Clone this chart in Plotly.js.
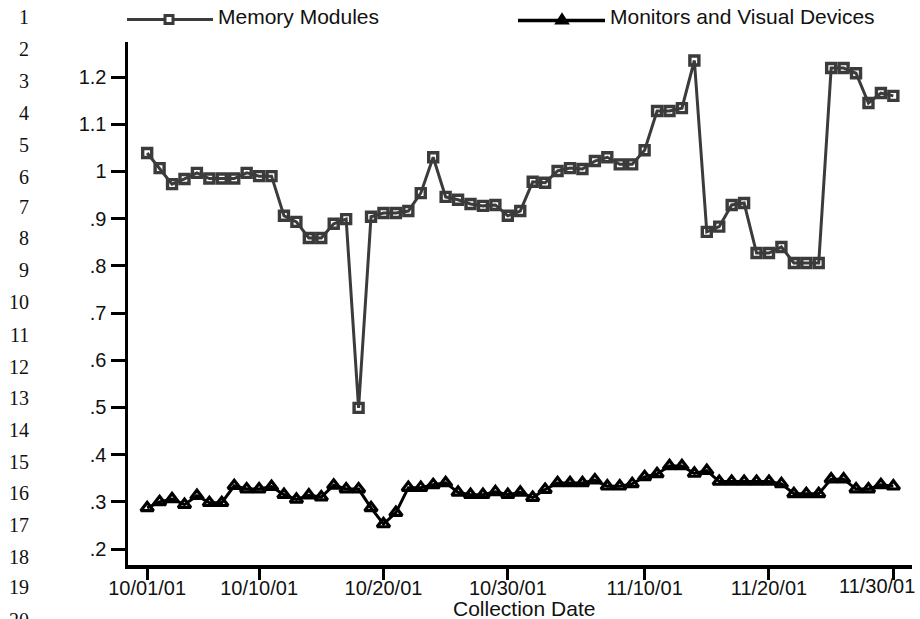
<!DOCTYPE html>
<html>
<head>
<meta charset="utf-8">
<script src="https://cdn.plot.ly/plotly-3.0.1.min.js"></script>
<style>
  html, body { margin: 0; padding: 0; background: #fff; }
  #chart { width: 920px; height: 619px; }
</style>
</head>
<body>
<div id="chart"></div>
<script>
// ---- data ----
var dates = [
  "2001-10-01","2001-10-02","2001-10-03","2001-10-04","2001-10-05","2001-10-06","2001-10-07","2001-10-08","2001-10-09","2001-10-10",
  "2001-10-11","2001-10-12","2001-10-13","2001-10-14","2001-10-15","2001-10-16","2001-10-17","2001-10-18","2001-10-19","2001-10-20",
  "2001-10-21","2001-10-22","2001-10-23","2001-10-24","2001-10-25","2001-10-26","2001-10-27","2001-10-28","2001-10-29","2001-10-30",
  "2001-10-31","2001-11-01","2001-11-02","2001-11-03","2001-11-04","2001-11-05","2001-11-06","2001-11-07","2001-11-08","2001-11-09",
  "2001-11-10","2001-11-11","2001-11-12","2001-11-13","2001-11-14","2001-11-15","2001-11-16","2001-11-17","2001-11-18","2001-11-19",
  "2001-11-20","2001-11-21","2001-11-22","2001-11-23","2001-11-24","2001-11-25","2001-11-26","2001-11-27","2001-11-28","2001-11-29",
  "2001-11-30"
];
var memoryModules = [
  1.039, 1.007, 0.973, 0.984, 0.997, 0.985, 0.985, 0.985, 0.997, 0.990,
  0.990, 0.906, 0.893, 0.859, 0.859, 0.889, 0.899, 0.499, 0.904, 0.912,
  0.912, 0.916, 0.954, 1.030, 0.946, 0.940, 0.931, 0.927, 0.929, 0.906,
  0.916, 0.978, 0.976, 1.001, 1.007, 1.005, 1.022, 1.030, 1.015, 1.015,
  1.045, 1.128, 1.128, 1.134, 1.235, 0.872, 0.883, 0.929, 0.933, 0.827,
  0.827, 0.840, 0.806, 0.806, 0.806, 1.219, 1.219, 1.208, 1.145, 1.166,
  1.160
];
var monitorsVisual = [
  0.287, 0.300, 0.306, 0.294, 0.313, 0.298, 0.298, 0.334, 0.327, 0.327,
  0.332, 0.315, 0.305, 0.314, 0.310, 0.335, 0.327, 0.327, 0.287, 0.253,
  0.277, 0.330, 0.330, 0.336, 0.340, 0.320, 0.315, 0.315, 0.321, 0.315,
  0.320, 0.309, 0.326, 0.340, 0.340, 0.340, 0.346, 0.333, 0.333, 0.338,
  0.353, 0.359, 0.376, 0.376, 0.360, 0.366, 0.343, 0.343, 0.343, 0.343,
  0.343, 0.338, 0.317, 0.317, 0.317, 0.348, 0.348, 0.327, 0.327, 0.336,
  0.333
];
var xTickVals = ["2001-10-01","2001-10-10","2001-10-20","2001-10-30","2001-11-10","2001-11-20","2001-11-30"];
var xTickText = ["10/01/01","10/10/01","10/20/01","10/30/01","11/10/01","11/20/01","11/30/01"];
var yTickVals = [0.2,0.3,0.4,0.5,0.6,0.7,0.8,0.9,1.0,1.1,1.2];
var yTickText = [".2",".3",".4",".5",".6",".7",".8",".9","1","1.1","1.2"];
var seriesNames = ["Memory Modules","Monitors and Visual Devices"];
var xAxisTitle = "Collection Date";
var lineNumbers = ["1","2","3","4","5","6","7","8","9","10","11","12","13","14","15","16","17","18","19","20"];

// ---- layout helpers (pixel -> paper) ----
var M = {l: 128, r: 8, t: 42, b: 54};
var W = 920, H = 619;
var PW = W - M.l - M.r, PH = H - M.t - M.b;
function px(x) { return (x - M.l) / PW; }
function py(y) { return (H - M.b - y) / PH; }

var memColor = "#3b3b3b";
var monColor = "#000000";
var font = "Liberation Sans, Arial, sans-serif";
var txtColor = "#111";

var traces = [
  {
    x: dates, y: memoryModules, name: seriesNames[0], type: "scatter", mode: "lines+markers",
    line: {color: memColor, width: 3},
    marker: {symbol: "square-open", size: 9, color: memColor, line: {color: memColor, width: 3.4}},
    cliponaxis: false
  },
  {
    x: dates, y: monitorsVisual, name: seriesNames[1], type: "scatter", mode: "lines+markers",
    line: {color: monColor, width: 3},
    marker: {symbol: "triangle-up-open", size: 11, color: monColor, line: {color: monColor, width: 3.2}},
    cliponaxis: false
  }
];

var shapes = [];
var annotations = [];

// custom legend
shapes.push({type: "line", xref: "paper", yref: "paper", x0: px(127), x1: px(213), y0: py(19.5), y1: py(19.5),
  line: {color: memColor, width: 3}});
shapes.push({type: "rect", xref: "paper", yref: "paper", x0: px(165), x1: px(173), y0: py(23.5), y1: py(15.5),
  fillcolor: "#ffffff", line: {color: memColor, width: 3}});
annotations.push({xref: "paper", yref: "paper", x: px(216), y: py(17), xanchor: "left", yanchor: "middle",
  text: seriesNames[0], showarrow: false, font: {family: font, size: 21, color: txtColor}});
shapes.push({type: "line", xref: "paper", yref: "paper", x0: px(518), x1: px(605), y0: py(20.5), y1: py(20.5),
  line: {color: monColor, width: 3.5}});
shapes.push({type: "path", xref: "paper", yref: "paper",
  path: "M" + px(556) + "," + py(23.5) + " L" + px(568) + "," + py(23.5) + " L" + px(562) + "," + py(14) + " Z",
  fillcolor: "#000", line: {color: monColor, width: 2}});
annotations.push({xref: "paper", yref: "paper", x: px(608), y: py(16), xanchor: "left", yanchor: "middle",
  text: seriesNames[1], showarrow: false, font: {family: font, size: 21, color: txtColor}});

// last x tick label is pulled left so it fits inside the page (as in the reference)
var xTickTextShown = xTickText.slice(0, xTickText.length - 1).concat([""]);
annotations.push({xref: "paper", yref: "paper", x: px(917), y: py(586), xanchor: "right", yanchor: "middle",
  text: xTickText[xTickText.length - 1], showarrow: false, font: {family: font, size: 20, color: txtColor}});

// x axis title
annotations.push({xref: "paper", yref: "paper", x: px(524), y: py(608), xanchor: "center", yanchor: "middle",
  text: xAxisTitle, showarrow: false, font: {family: font, size: 21, color: txtColor}});

// line numbers on the left margin
var lnY = [17, 49, 81, 113, 145, 177, 207, 238, 270, 302, 335, 367, 398, 430, 462, 493, 525, 557, 587, 620];
for (var i = 0; i < lineNumbers.length; i++) {
  annotations.push({xref: "paper", yref: "paper", x: px(31), y: py(lnY[i]), xanchor: "right", yanchor: "middle",
    text: lineNumbers[i], showarrow: false, font: {family: "Liberation Serif, Times New Roman, serif", size: 20, color: txtColor}});
}

var layout = {
  width: W, height: H,
  margin: M,
  paper_bgcolor: "#fff", plot_bgcolor: "#fff",
  showlegend: false,
  font: {family: font, size: 20, color: txtColor},
  xaxis: {
    type: "date",
    range: ["2001-09-29 11:00", "2001-12-01 12:00"],
    tickvals: xTickVals, ticktext: xTickTextShown,
    ticks: "outside", ticklen: 11, tickwidth: 3, tickcolor: "#000",
    ticklabelstandoff: -9,
    showline: true, linewidth: 3.5, linecolor: "#000",
    showgrid: false, zeroline: false, automargin: false,
    tickfont: {family: font, size: 20, color: txtColor}
  },
  yaxis: {
    range: [0.1661, 1.2742],
    tickvals: yTickVals, ticktext: yTickText,
    ticks: "outside", ticklen: 14, tickwidth: 3, tickcolor: "#000",
    showline: true, linewidth: 3.5, linecolor: "#000",
    showgrid: false, zeroline: false, automargin: false,
    tickfont: {family: font, size: 20, color: txtColor}
  },
  shapes: shapes,
  annotations: annotations
};

Plotly.newPlot("chart", traces, layout, {displayModeBar: false, staticPlot: true});
</script>
</body>
</html>
